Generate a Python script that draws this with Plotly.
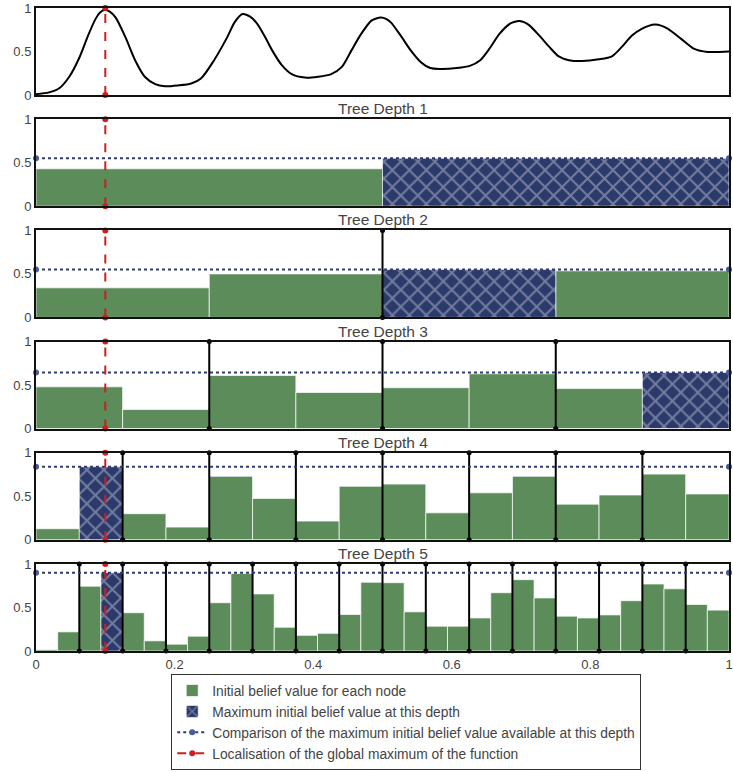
import numpy as np
import plotly.graph_objects as go

# Objective function sampled along [0, 1]
CURVE_X = [0.0, 0.019, 0.034, 0.048, 0.062, 0.076, 0.086, 0.092, 0.099, 0.107, 0.115, 0.129, 0.143,
           0.157, 0.172, 0.186, 0.205, 0.224, 0.238, 0.257, 0.276, 0.287, 0.298, 0.309, 0.319, 0.331,
           0.341, 0.355, 0.369, 0.388, 0.407, 0.426, 0.441, 0.455, 0.469, 0.484, 0.491, 0.498,
           0.505, 0.512, 0.526, 0.541, 0.555, 0.569, 0.584, 0.607, 0.626, 0.641, 0.655, 0.669,
           0.684, 0.691, 0.698, 0.705, 0.712, 0.726, 0.741, 0.755, 0.769, 0.788, 0.812, 0.831, 0.845,
           0.860, 0.874, 0.884, 0.893, 0.903, 0.912, 0.931, 0.950, 0.969, 1.0]
CURVE_Y = [0.01, 0.03, 0.08, 0.21, 0.42, 0.70, 0.875, 0.945, 0.98, 0.955, 0.89, 0.665, 0.40,
           0.21, 0.125, 0.10, 0.11, 0.133, 0.19, 0.40, 0.665, 0.84, 0.93, 0.90, 0.82, 0.66,
           0.51, 0.34, 0.24, 0.20, 0.21, 0.24, 0.32, 0.51, 0.70, 0.855, 0.88, 0.89,
           0.875, 0.835, 0.685, 0.51, 0.38, 0.31, 0.30, 0.31, 0.335, 0.40, 0.54, 0.705,
           0.82, 0.843, 0.85, 0.835, 0.80, 0.685, 0.55, 0.44, 0.40, 0.39, 0.41, 0.445, 0.55,
           0.685, 0.76, 0.795, 0.81, 0.795, 0.76, 0.645, 0.53, 0.495, 0.50]

# Initial belief value of every node, per tree depth (nodes split [0, 1] evenly)
DEPTH_1 = [0.43, 0.55]
DEPTH_2 = [0.34, 0.50, 0.55, 0.535]
DEPTH_3 = [0.48, 0.22, 0.61, 0.415, 0.47, 0.63, 0.46, 0.645]
DEPTH_4 = [0.127, 0.84, 0.30, 0.146, 0.73, 0.476, 0.215, 0.615,
           0.64, 0.31, 0.54, 0.73, 0.41, 0.515, 0.755, 0.527]
DEPTH_5 = [0.015, 0.22, 0.745, 0.90, 0.44, 0.117, 0.078, 0.17,
           0.555, 0.89, 0.656, 0.273, 0.18, 0.203, 0.42, 0.79,
           0.785, 0.45, 0.285, 0.285, 0.38, 0.67, 0.82, 0.61,
           0.40, 0.38, 0.415, 0.578, 0.77, 0.715, 0.535, 0.47]
DEPTHS = [DEPTH_1, DEPTH_2, DEPTH_3, DEPTH_4, DEPTH_5]
DEPTH_TITLES = ["Tree Depth 1", "Tree Depth 2", "Tree Depth 3", "Tree Depth 4", "Tree Depth 5"]

GLOBAL_MAX_X = 0.1

X_TICKS = [0, 0.2, 0.4, 0.6, 0.8, 1]
X_TICK_LABELS = ["0", "0.2", "0.4", "0.6", "0.8", "1"]
Y_TICKS = [0, 0.5, 1]
Y_TICK_LABELS = ["0", "0.5", "1"]

LEGEND_NAMES = [
    "Initial belief value for each node",
    "Maximum initial belief value at this depth",
    "Comparison of the maximum initial belief value available at this depth",
    "Localisation of the global maximum of the function",
]

# Styling
GREEN = "#5b8c5a"
NAVY = "#2c3a6b"
HATCH = "#b9bed0"
RED = "#cc1f1f"
DOT_BLUE = "#2e3b6e"
FRAME = "#111111"
TEXT = "#444444"
FONT = "Liberation Sans, Arial, sans-serif"

W, H = 733, 772
M_L, M_R, M_T, M_B = 36, 0, 8, 121
PLOT_H = H - M_T - M_B
PANEL_H = 87
PANEL_STEP = 111.2
N_PANELS = 6


def domain(i):
    top = i * PANEL_STEP
    bottom = top + PANEL_H
    return [1 - bottom / PLOT_H, 1 - top / PLOT_H]


fig = go.Figure()


def red_marker(ax, show):
    fig.add_trace(go.Scatter(
        x=[GLOBAL_MAX_X, GLOBAL_MAX_X], y=[0, 1], mode="lines+markers",
        line=dict(color=RED, width=2, dash="dash"),
        marker=dict(color=RED, size=6),
        name=LEGEND_NAMES[3], legendgroup="red", showlegend=show, legendrank=4,
        xaxis=ax[0], yaxis=ax[1], cliponaxis=False, hoverinfo="skip"))


# Panel 1: the function itself
fig.add_trace(go.Scatter(
    x=CURVE_X, y=CURVE_Y, mode="lines",
    line=dict(color="black", width=2, shape="spline", smoothing=0.8),
    showlegend=False, xaxis="x", yaxis="y", hoverinfo="skip"))
red_marker(("x", "y"), False)

# Panels 2..6: belief values of the tree nodes
for d, values in enumerate(DEPTHS):
    k = d + 2
    ax = (f"x{k}", f"y{k}")
    vals = np.array(values)
    n = len(vals)
    w = 1.0 / n
    centers = (np.arange(n) + 0.5) * w
    imax = int(np.argmax(vals))
    mask = np.arange(n) != imax
    first = d == 0

    fig.add_trace(go.Bar(
        x=centers[mask], y=vals[mask], width=[w] * int(mask.sum()),
        marker=dict(color=GREEN, line=dict(color="rgba(255,255,255,0.7)", width=1)),
        name=LEGEND_NAMES[0], legendgroup="green", showlegend=first, legendrank=1,
        xaxis=ax[0], yaxis=ax[1], hoverinfo="skip"))
    fig.add_trace(go.Bar(
        x=[centers[imax]], y=[vals[imax]], width=[w],
        marker=dict(color=NAVY, line=dict(color="rgba(255,255,255,0.6)", width=1),
                    pattern=dict(shape="x", bgcolor=NAVY, fgcolor=HATCH, size=12, solidity=0.3)),
        name=LEGEND_NAMES[1], legendgroup="navy", showlegend=first, legendrank=2,
        xaxis=ax[0], yaxis=ax[1], hoverinfo="skip"))

    # parent node boundaries
    n_parent = n // 2
    if n_parent > 1:
        bx, by = [], []
        for j in range(1, n_parent):
            b = j / n_parent
            bx += [b, b, None]
            by += [0, 1, None]
        fig.add_trace(go.Scatter(
            x=bx, y=by, mode="lines+markers", line=dict(color="black", width=2),
            marker=dict(color="black", size=5), showlegend=False,
            xaxis=ax[0], yaxis=ax[1], cliponaxis=False, hoverinfo="skip"))

    # best value reached at this depth
    fig.add_trace(go.Scatter(
        x=[0, 1], y=[vals[imax], vals[imax]], mode="lines+markers",
        line=dict(color=DOT_BLUE, width=2, dash="dot"),
        marker=dict(color="#4a5c9c", size=6),
        name=LEGEND_NAMES[2], legendgroup="blue", showlegend=first, legendrank=3,
        xaxis=ax[0], yaxis=ax[1], cliponaxis=False, hoverinfo="skip"))

    red_marker(ax, first)

layout = dict(
    width=W, height=H,
    margin=dict(l=M_L, r=M_R, t=M_T, b=M_B),
    paper_bgcolor="white", plot_bgcolor="white",
    font=dict(family=FONT, color=TEXT, size=13),
    barmode="overlay",
    legend=dict(
        x=(172 - M_L) / (W - M_L - M_R), y=(PLOT_H - (674 - M_T)) / PLOT_H,
        xanchor="left", yanchor="top",
        bordercolor="#333333", borderwidth=1, bgcolor="white",
        font=dict(family=FONT, size=13.8, color=TEXT),
        tracegroupgap=0,
    ),
    annotations=[],
)

for i in range(N_PANELS):
    suffix = "" if i == 0 else str(i + 1)
    last = i == N_PANELS - 1
    layout["xaxis" + suffix] = dict(
        domain=[0, 1], range=[0, 1], anchor="y" + suffix,
        showline=True, mirror=True, linecolor=FRAME, linewidth=2,
        showgrid=False, zeroline=False, ticks="",
        tickvals=X_TICKS, ticktext=X_TICK_LABELS, showticklabels=last,
        ticklabeloverflow="allow",
        tickfont=dict(size=13, color=TEXT),
    )
    layout["yaxis" + suffix] = dict(
        domain=domain(i), range=[0, 1], anchor="x" + suffix,
        showline=True, mirror=True, linecolor=FRAME, linewidth=2,
        showgrid=False, zeroline=False, ticks="",
        tickvals=Y_TICKS, ticktext=Y_TICK_LABELS,
        tickfont=dict(size=13, color=TEXT),
    )
    if i > 0:
        layout["annotations"].append(dict(
            text=DEPTH_TITLES[i - 1], xref="paper", yref="paper",
            x=0.5, y=domain(i)[1], xanchor="center", yanchor="bottom",
            showarrow=False, font=dict(family=FONT, size=15.5, color=TEXT),
        ))

fig.update_layout(**layout)
fig.write_html("out.html")
